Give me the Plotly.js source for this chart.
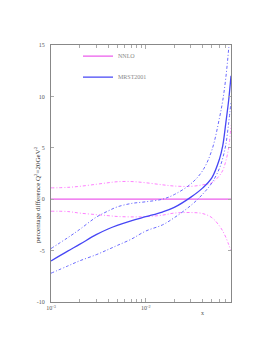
<!DOCTYPE html>
<html>
<head>
<meta charset="utf-8">
<script src="https://cdn.plot.ly/plotly-3.0.1.min.js"></script>
<style>html,body{margin:0;padding:0;background:#fff;}#chart{width:277px;height:358px;}</style>
</head>
<body>
<div id="chart"></div>
<script>
// x values (Bjorken x)
var xVals = [0.001, 0.0015, 0.002, 0.003, 0.004, 0.005, 0.007, 0.01, 0.015, 0.02, 0.03, 0.04, 0.05, 0.06, 0.065, 0.07, 0.075, 0.0795];
// NNLO reference (zero) and its uncertainty band
var nnloCentral = [0, 0, 0, 0, 0, 0, 0, 0, 0, 0, 0, 0, 0, 0, 0, 0, 0, 0];
var nnloUpper = [1.1, 1.15, 1.25, 1.45, 1.6, 1.7, 1.72, 1.6, 1.4, 1.28, 1.25, 1.4, 1.6, 2.3, 2.8, 3.7, 5.0, 7.2];
var nnloLower = [-1.17, -1.2, -1.35, -1.5, -1.6, -1.68, -1.72, -1.7, -1.55, -1.35, -1.3, -1.4, -1.8, -2.6, -3.1, -3.7, -4.4, -5.0];
// MRST2001 central and band
var mrstCentral = [-6.0, -5.05, -4.4, -3.45, -2.9, -2.55, -2.1, -1.7, -1.25, -0.8, 0.2, 1.1, 2.1, 3.9, 5.2, 7.4, 9.6, 12.0];
var mrstUpper = [-4.8, -3.75, -2.95, -1.75, -1.15, -0.75, -0.42, -0.25, 0.0, 0.45, 1.5, 2.8, 4.8, 7.9, 9.6, 11.8, 14.6, 17.5];
var mrstLower = [-7.2, -6.5, -6.0, -5.4, -4.9, -4.5, -3.9, -3.1, -2.5, -1.8, -0.6, 0.5, 1.6, 3.0, 4.0, 5.3, 7.4, 9.5];
var seriesNames = ['NNLO', 'MRST2001'];
var yTickVals = [-10, -5, 0, 5, 10, 15];
var xTickVals = [0.001, 0.01];
var xTickText = ['10<sup>-3</sup>', '10<sup>-2</sup>'];
var xMinorVals = [0.002, 0.003, 0.004, 0.005, 0.006, 0.007, 0.008, 0.009, 0.02, 0.03, 0.04, 0.05, 0.06, 0.07, 0.08];

var pink = '#ec5cec';
var pinkBand = '#ff80ff';
var blue = '#4646f5';
var blueBand = '#6a6aff';
var dd = '3px,2px,1px,2px';

var traces = [
  {x: xVals, y: nnloUpper, mode: 'lines', line: {color: pinkBand, width: 1, dash: dd, shape: 'spline'}, showlegend: false, hoverinfo: 'skip'},
  {x: xVals, y: nnloLower, mode: 'lines', line: {color: pinkBand, width: 1, dash: dd, shape: 'spline'}, showlegend: false, hoverinfo: 'skip'},
  {x: xVals, y: nnloCentral, mode: 'lines', name: seriesNames[0], line: {color: pink, width: 1.3}, legend: 'legend'},
  {x: xVals, y: mrstUpper, mode: 'lines', line: {color: blueBand, width: 1, dash: dd, shape: 'spline'}, showlegend: false, hoverinfo: 'skip'},
  {x: xVals, y: mrstLower, mode: 'lines', line: {color: blueBand, width: 1, dash: dd, shape: 'spline'}, showlegend: false, hoverinfo: 'skip'},
  {x: xVals, y: mrstCentral, mode: 'lines', name: seriesNames[1], line: {color: blue, width: 1.3, shape: 'spline'}, legend: 'legend2'}
];

var tickFont = {family: 'Liberation Serif, DejaVu Serif, serif', size: 6, color: '#555'};
var legFont = {family: 'Liberation Serif, serif', size: 6, color: '#888'};
var layout = {
  width: 277, height: 358,
  margin: {l: 51, r: 46, t: 45, b: 56, pad: 0},
  paper_bgcolor: '#fff', plot_bgcolor: '#fff',
  showlegend: true,
  legend: {x: 0.15, y: 0.957, xanchor: 'left', yanchor: 'middle', bgcolor: 'rgba(0,0,0,0)', borderwidth: 0,
           font: legFont, itemwidth: 30},
  legend2: {x: 0.15, y: 0.875, xanchor: 'left', yanchor: 'middle', bgcolor: 'rgba(0,0,0,0)', borderwidth: 0,
           font: legFont, itemwidth: 30},
  xaxis: {
    type: 'log', range: [-3, -1.1], showgrid: false, zeroline: false,
    showline: true, linecolor: '#888', linewidth: 1, mirror: 'allticks',
    ticks: 'inside', ticklen: 4, tickcolor: '#aaa', tickwidth: 1,
    tickmode: 'array', tickvals: xTickVals, ticktext: xTickText,
    minor: {tickmode: 'array', tickvals: xMinorVals, ticks: 'inside', ticklen: 3, tickcolor: '#aaa', showgrid: false},
    tickfont: tickFont, tickangle: 0
  },
  yaxis: {
    range: [-10, 15], showgrid: false, zeroline: false,
    showline: true, linecolor: '#888', linewidth: 1, mirror: 'allticks',
    ticks: 'inside', ticklen: 3, tickcolor: '#aaa', tickwidth: 1,
    tickmode: 'array', tickvals: yTickVals, ticktext: yTickVals.map(String),
    tickfont: tickFont, ticklabelstandoff: 4
  },
  annotations: [
    {text: 'x', xref: 'x', yref: 'paper', x: Math.log10(0.04), y: -0.025, yanchor: 'top', showarrow: false,
     font: {family: 'Liberation Serif, serif', size: 6, color: '#555'}},
    {text: 'percentage difference Q<sup>2</sup>=20GeV<sup>2</sup>', xref: 'paper', yref: 'y', x: -0.078, y: 0.5,
     textangle: -90, showarrow: false, xanchor: 'center', yanchor: 'middle',
     font: {family: 'Liberation Serif, serif', size: 7, color: '#333'}}
  ]
};

Plotly.newPlot('chart', traces, layout, {displayModeBar: false, staticPlot: true});
</script>
</body>
</html>
